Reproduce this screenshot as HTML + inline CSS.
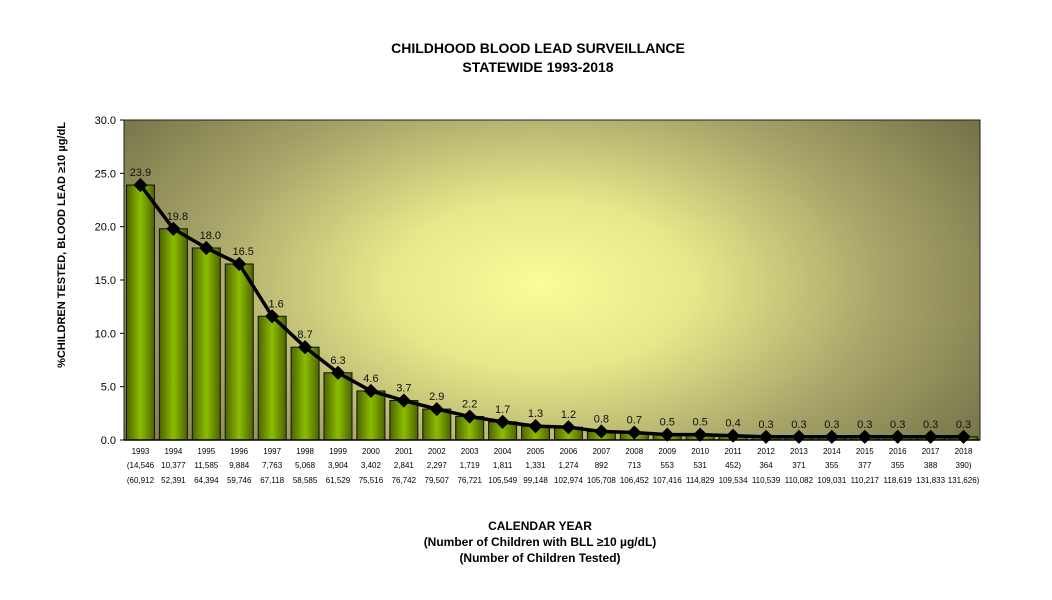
<!DOCTYPE html>
<html><head><meta charset="utf-8"><style>
body{margin:0;background:#fff;}
svg text{font-family:"Liberation Sans",Arial,sans-serif;}
</style></head><body>
<svg id="c" width="1052" height="595" xmlns="http://www.w3.org/2000/svg">
<defs>
<radialGradient id="bg" cx="540" cy="285" r="520" gradientUnits="userSpaceOnUse" gradientTransform="translate(540 285) scale(1 0.55) translate(-540 -285)">
<stop offset="0" stop-color="#fafc98"/>
<stop offset="0.3" stop-color="#e6e78a"/>
<stop offset="0.65" stop-color="#a9a66a"/>
<stop offset="1" stop-color="#767449"/>
</radialGradient>
<linearGradient id="bar" x1="0" x2="1" y1="0" y2="0">
<stop offset="0" stop-color="#4d6400"/>
<stop offset="0.5" stop-color="#8cbc00"/>
<stop offset="1" stop-color="#4d6400"/>
</linearGradient>
</defs>
<text x="538" y="53" text-anchor="middle" font-size="14" font-weight="bold">CHILDHOOD BLOOD LEAD SURVEILLANCE</text>
<text x="538" y="72" text-anchor="middle" font-size="14" font-weight="bold">STATEWIDE 1993-2018</text>
<rect x="124" y="120" width="856" height="320" fill="url(#bg)" stroke="#222" stroke-width="1"/>
<g id="g"></g>
<text transform="translate(65 245) rotate(-90)" text-anchor="middle" font-size="11" font-weight="bold">%CHILDREN TESTED, BLOOD LEAD ≥10 µg/dL</text>
<text x="540" y="530" text-anchor="middle" font-size="12" font-weight="bold">CALENDAR YEAR</text>
<text x="540" y="546" text-anchor="middle" font-size="12" font-weight="bold">(Number of Children with BLL ≥10 µg/dL)</text>
<text x="540" y="562" text-anchor="middle" font-size="12" font-weight="bold">(Number of Children Tested)</text>
</svg>
<script>
var v=[23.9,19.8,18.0,16.5,11.6,8.7,6.3,4.6,3.7,2.9,2.2,1.7,1.3,1.2,0.8,0.7,0.5,0.5,0.4,0.3,0.3,0.3,0.3,0.3,0.3,0.3];
var lbl=["23.9","19.8","18.0","16.5","1.6","8.7","6.3","4.6","3.7","2.9","2.2","1.7","1.3","1.2","0.8","0.7","0.5","0.5","0.4","0.3","0.3","0.3","0.3","0.3","0.3","0.3"];
var n1=["(14,546","10,377","11,585","9,884","7,763","5,068","3,904","3,402","2,841","2,297","1,719","1,811","1,331","1,274","892","713","553","531","452)","364","371","355","377","355","388","390)"];
var n2=["(60,912","52,391","64,394","59,746","67,118","58,585","61,529","75,516","76,742","79,507","76,721","105,549","99,148","102,974","105,708","106,452","107,416","114,829","109,534","110,539","110,082","109,031","110,217","118,619","131,833","131,626)"];
var s="",w=856/26,pts=[];
function Y(x){return 440-x*320/30;}
for(var t=0;t<=6;t++){var y=440-t*320/6;s+='<line x1="120" x2="124" y1="'+y+'" y2="'+y+'" stroke="#000"/><text x="116" y="'+(y+4)+'" text-anchor="end" font-size="11">'+(t*5).toFixed(1)+'</text>';}
for(var i=0;i<26;i++){var cx=124+w*(i+0.5),y=Y(v[i]);
s+='<rect x="'+(cx-14)+'" y="'+y+'" width="28" height="'+(440-y)+'" fill="url(#bar)" stroke="#111" stroke-width="1"/>';
pts.push(cx+','+y);
s+='<text x="'+cx+'" y="'+(440+14)+'" text-anchor="middle" font-size="8">'+(1993+i)+'</text>';
s+='<text x="'+cx+'" y="'+(440+28)+'" text-anchor="middle" font-size="8">'+n1[i]+'</text>';
s+='<text x="'+cx+'" y="'+(440+43)+'" text-anchor="middle" font-size="8">'+n2[i]+'</text>';}
s+='<line x1="124" x2="980" y1="440" y2="440" stroke="#000" stroke-width="1.5"/>';
s+='<polyline points="'+pts.join(' ')+'" fill="none" stroke="#000" stroke-width="3.5" stroke-linejoin="round"/>';
for(var i=0;i<26;i++){var cx=124+w*(i+0.5),y=Y(v[i]);
s+='<rect x="'+(cx-5)+'" y="'+(y-5)+'" width="10" height="10" transform="rotate(45 '+cx+' '+y+')" fill="#000"/>';
s+='<text x="'+(cx+(i<5&&i>0?4:0))+'" y="'+(y-9)+'" text-anchor="middle" font-size="11" fill="#111">'+lbl[i]+'</text>';}
document.getElementById('g').innerHTML=s;
</script>
</body></html>
